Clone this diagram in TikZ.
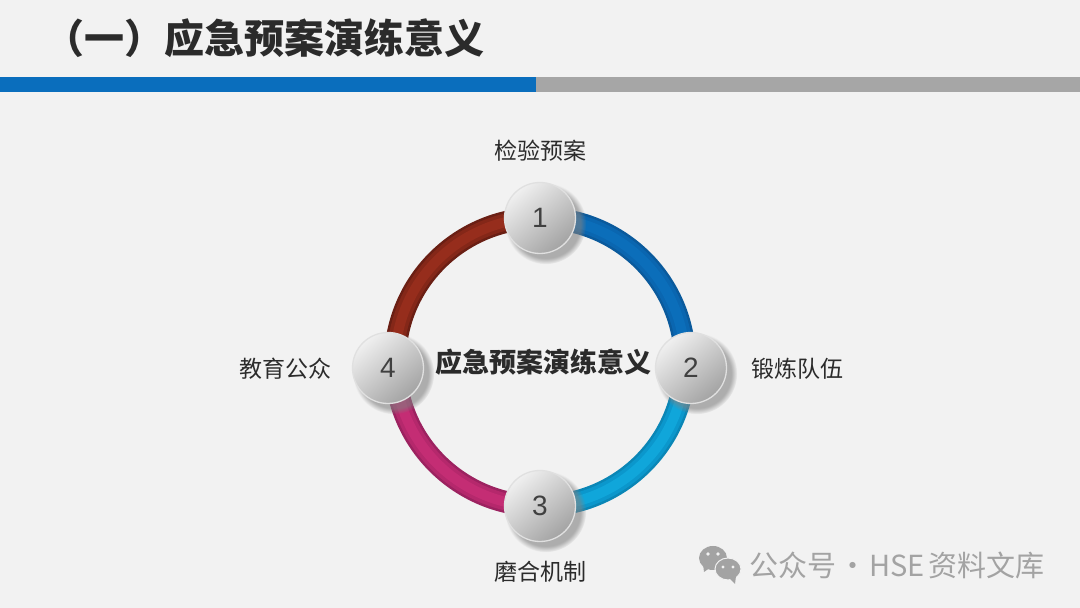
\documentclass[tikz,border=0pt]{standalone}
\usepackage{fontspec}
\setmainfont{Noto Sans CJK SC}
\newfontfamily\numfont{Liberation Sans}
\usetikzlibrary{backgrounds,shadows}
\definecolor{pagebg}{HTML}{F2F2F2}
\definecolor{barblue}{HTML}{0A6EBD}
\definecolor{bargray}{HTML}{A6A6A6}
\definecolor{inkdark}{HTML}{2B2B2B}
\definecolor{marktext}{HTML}{A3A3A3}
\definecolor{blueD}{HTML}{0A5A9C}\definecolor{blueM}{HTML}{0A66B0}\definecolor{blueL}{HTML}{0B6EBA}
\definecolor{cyanD}{HTML}{0A86B6}\definecolor{cyanM}{HTML}{0B97CC}\definecolor{cyanL}{HTML}{10A6DA}
\definecolor{pinkD}{HTML}{9C2260}\definecolor{pinkM}{HTML}{B5286C}\definecolor{pinkL}{HTML}{C42D74}
\definecolor{brownD}{HTML}{6A1F14}\definecolor{brownM}{HTML}{842718}\definecolor{brownL}{HTML}{962D1C}
\tikzset{
  numball/.style={circle,minimum size=71pt,inner sep=0pt,draw=white!88!black,line width=1.3pt,
    top color=white!94!black,bottom color=black!36,shading angle=40,text=black!75,
    font=\numfont\fontsize{28}{30}\selectfont,
    circular drop shadow={shadow xshift=5pt,shadow yshift=-5pt,shadow scale=1.14,opacity=.6}},
  sidelabel/.style={inner sep=0pt,text=inkdark,font=\fontsize{23}{26}\selectfont},
  markbubble/.style={fill=marktext,draw=pagebg,line width=1pt},
  markeye/.style={fill=pagebg}
}
\begin{document}
\begin{tikzpicture}[x=1pt,y=1pt]
  \useasboundingbox (0,0) rectangle (1080,608);
  % ring nodes
  \node[numball] (num1) at (540,390) {1};
  \node[numball] (num2) at (691,240) {2};
  \node[numball] (num3) at (540,102) {3};
  \node[numball] (num4) at (388,240) {4};
  \coordinate (rimE) at (685,246);
  \coordinate (rimW) at (395,246);
  \begin{scope}[on background layer]
    \fill[pagebg] (0,0) rectangle (1080,608);
    \foreach \a/\b/\o/\i/\cc in {num1/rimE/0/90/blue,rimE/num3/-90/0/cyan,num3/rimW/180/-90/pink,rimW/num1/90/180/brown}{
      \draw[\cc D,line width=22pt] (\a.center) to[out=\o,in=\i] (\b.center);
      \draw[\cc M,line width=17pt] (\a.center) to[out=\o,in=\i] (\b.center);
      \draw[\cc L,line width=10pt] (\a.center) to[out=\o,in=\i] (\b.center);
    }
  \end{scope}
  % title and bars
  \node[anchor=west,inner sep=0pt,text=inkdark,font=\bfseries\fontsize{40}{44}\selectfont] (title) at (44,570) {（一）应急预案演练意义};
  \fill[barblue] (0,516) rectangle (536,531);
  \fill[bargray] (536,516) rectangle (1080,531);
  % labels
  \node[text=inkdark,inner sep=0pt,font=\bfseries\fontsize{27}{30}\selectfont] (centre) at (543,246) {应急预案演练意义};
  \node[sidelabel] (lab1) at (540,457) {检验预案};
  \node[sidelabel] (lab2) at (797,239) {锻炼队伍};
  \node[sidelabel] (lab3) at (540,36) {磨合机制};
  \node[sidelabel] (lab4) at (285,239) {教育公众};
  % watermark
  \fill[markbubble,draw=none] (713,50) ellipse (14 and 12);
  \fill[markbubble,draw=none] (704,36) -- (703,44) -- (711,41) -- cycle;
  \fill[markeye] (708,54) circle (1.9);
  \fill[markeye] (718,54) circle (1.9);
  \draw[markbubble] (728,39) ellipse (13 and 11);
  \fill[marktext] (735,24) -- (736,32) -- (729,30) -- cycle;
  \fill[markeye] (723,41) circle (1.7);
  \fill[markeye] (733,41) circle (1.7);
  \node[anchor=west,inner sep=0pt,text=marktext,font=\fontsize{29}{32}\selectfont] (mark) at (749,43) {公众号\kern2pt ·\kern2pt HSE\kern4pt 资料文库};
\end{tikzpicture}
\end{document}
